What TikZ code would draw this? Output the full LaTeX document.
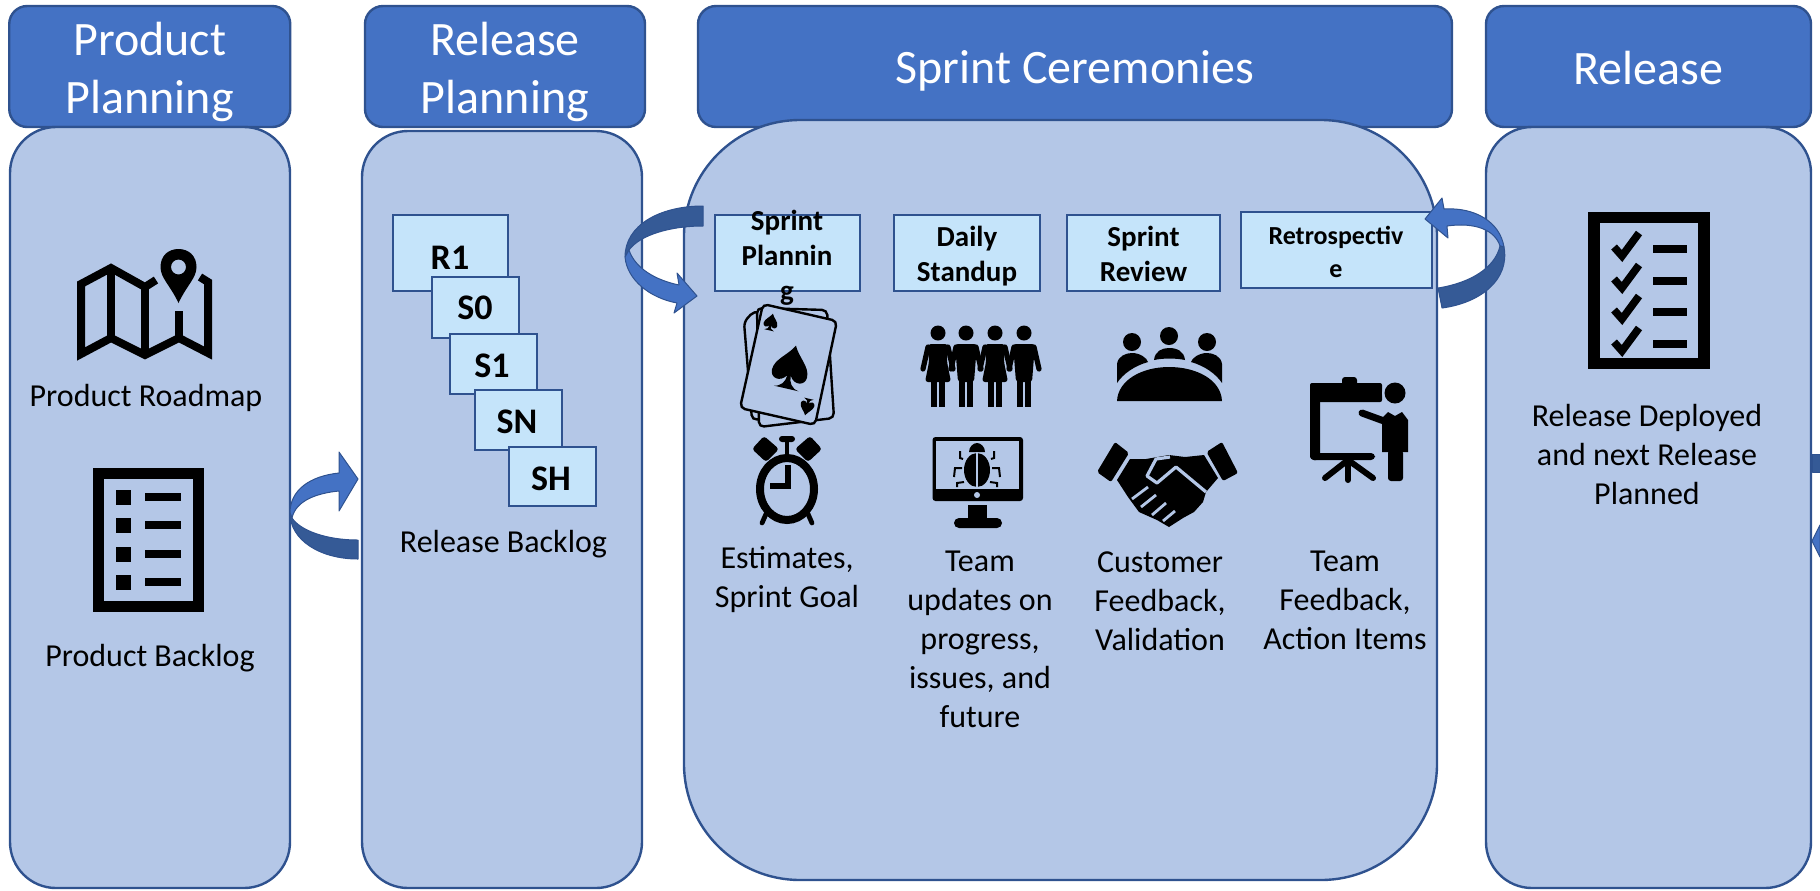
\documentclass[tikz,border=0pt]{standalone}
\usepackage{fontspec}
\setmainfont{Carlito}
\definecolor{hfill}{HTML}{4472C4}
\definecolor{pfill}{HTML}{B4C7E7}
\definecolor{bfill}{HTML}{C5E4FA}
\definecolor{edgec}{HTML}{2F528F}
\definecolor{darkarrow}{HTML}{355A96}
\tikzset{
  headbox/.style={draw=edgec,fill=hfill,line width=1.2pt,rounded corners=9pt,inner sep=0pt,align=center,text=white,font=\fontsize{24}{29}\selectfont},
  headtext/.style={inner sep=0pt,align=center,text=white,font=\fontsize{24}{29}\selectfont},
  bodybox/.style={draw=edgec,fill=pfill,line width=1.2pt,inner sep=0pt},
  itembox/.style={draw=edgec,fill=bfill,line width=1.2pt,inner sep=0pt},
  itemtext/.style={inner sep=0pt,align=center,font=\fontsize{14.5}{17.5}\selectfont\bfseries},
  stackbox/.style={draw=edgec,fill=bfill,line width=1.2pt,inner sep=0pt},
  stacktext/.style={inner sep=0pt,font=\fontsize{18}{20}\selectfont\bfseries},
  caption/.style={inner sep=0pt,align=center,font=\fontsize{16}{19.5}\selectfont},
  arrowlight/.style={fill=hfill,draw=edgec,line width=.5pt,line join=round},
  arrowdark/.style={fill=darkarrow,draw=edgec,line width=.5pt,line join=round},
  card/.style={draw=black,fill=pfill,line width=1.2pt,rounded corners=2.5pt},
}
\newcommand{\spadeshape}{(0,-1) .. controls (0.3,-0.5) and (1,-0.2) .. (1,0.3) .. controls (1,0.7) and (0.4,0.8) .. (0.1,0.4) .. controls (0.1,0.7) and (0.3,0.95) .. (0.7,1) -- (-0.7,1) .. controls (-0.3,0.95) and (-0.1,0.7) .. (-0.1,0.4) .. controls (-0.4,0.8) and (-1,0.7) .. (-1,0.3) .. controls (-1,-0.2) and (-0.3,-0.5) .. (0,-1) -- cycle}
\newcommand{\femfig}[1]{%
  \fill ({#1},333) circle (7.5);
  \fill[rounded corners=1.5pt] ({#1-10},344) -- ({#1+10},344) -- ({#1+9},362) -- ({#1+13},382) -- ({#1-13},382) -- ({#1-9},362) -- cycle;
  \fill ({#1-7},380) rectangle ({#1-1},407);
  \fill ({#1+1},380) rectangle ({#1+7},407);
  \draw[line width=2.6pt,line cap=round] ({#1-10},347) -- ({#1-15},369);
  \draw[line width=2.6pt,line cap=round] ({#1+10},347) -- ({#1+15},369);
}
\newcommand{\malefig}[1]{%
  \fill ({#1},333) circle (7.5);
  \fill[rounded corners=1.5pt] ({#1-11},344) -- ({#1+11},344) -- ({#1+8},382) -- ({#1-8},382) -- cycle;
  \fill ({#1-7},380) rectangle ({#1-1},407);
  \fill ({#1+1},380) rectangle ({#1+7},407);
  \draw[line width=2.6pt,line cap=round] ({#1-10},347) -- ({#1-15},369);
  \draw[line width=2.6pt,line cap=round] ({#1+10},347) -- ({#1+15},369);
}
\newcommand{\bullitem}[1]{%
  \fill (116,{#1-7.5}) rectangle (131,{#1+7.5});
  \fill (145,{#1-4}) rectangle (181,{#1+4});
}
\newcommand{\checkitem}[1]{%
  \draw[line width=3.8pt,miter limit=10] (1614,{#1}) -- (1622,{#1+9}) -- (1639,{#1-14});
  \fill (1653,{#1-2}) rectangle (1687,{#1+6});
}
\begin{document}
\begin{tikzpicture}[x=0.5pt,y=-0.5pt]
\useasboundingbox (0,0) rectangle (1820,890);
% headers
\node[headbox,minimum width=140.5pt,minimum height=60.5pt] (h1) at (149.75,66.5) {};
\node[headtext] (h1t) at (149.75,72) {Product\\Planning};
\node[headbox,minimum width=140pt,minimum height=60.5pt] (h2) at (505,66.5) {};
\node[headtext] (h2t) at (505,72) {Release\\Planning};
\node[headbox,minimum width=377pt,minimum height=60.5pt] (h3) at (1075,66.5) {};
\node[headtext] (h3t) at (1075,71) {Sprint Ceremonies};
\node[headbox,minimum width=162.5pt,minimum height=60.5pt] (h4) at (1648.5,66.5) {};
\node[headtext] (h4t) at (1648.5,68) {Release};
% panels
\node[bodybox,rounded corners=23pt,minimum width=140pt,minimum height=380.5pt] (p1) at (150,507.5) {};
\node[bodybox,rounded corners=23pt,minimum width=140pt,minimum height=378.5pt] (p2) at (502,509.5) {};
\node[bodybox,rounded corners=23pt,minimum width=162.5pt,minimum height=380.5pt] (p4) at (1648.5,507.5) {};
\node[bodybox,rounded corners=58pt,minimum width=376.5pt,minimum height=380pt] (p3) at (1060.5,500) {};
% map icon
\draw[line width=4pt,miter limit=10] (200,277) -- (208,282) -- (208,353) -- (179,338) -- (145,355) -- (111,338) -- (81,354) -- (81,284) -- (111,268) -- (145,287) -- (156,280);
\draw[line width=4pt] (111,268) -- (111,338);
\draw[line width=4pt] (145,287) -- (145,355);
\draw[line width=4pt] (179,311) -- (179,338);
\fill[even odd rule] (178.5,303) .. controls (170,285) and (160.5,278) .. (160.5,267) .. controls (160.5,256) and (168,249) .. (178.5,249) .. controls (189,249) and (196.5,256) .. (196.5,267) .. controls (196.5,278) and (187,285) .. (178.5,303) -- cycle (178.5,267) circle (7.5);
\node[caption] (t1) at (146,398) {Product Roadmap};
% backlog icon
\draw[line width=5.5pt] (98.5,473.5) rectangle (198.5,606.5);
\bullitem{497}\bullitem{525}\bullitem{554}\bullitem{582}
\node[caption] (t2) at (150,658) {Product Backlog};
% stack
\node[stackbox,minimum width=57.5pt,minimum height=38pt] (r1) at (450.5,253) {};
\node[stackbox,minimum width=43.5pt,minimum height=30.5pt] (s0) at (475.5,307.5) {};
\node[stackbox,minimum width=43.5pt,minimum height=30pt] (s1) at (493.5,364) {};
\node[stackbox,minimum width=43.5pt,minimum height=30pt] (sn) at (518.5,420) {};
\node[stackbox,minimum width=43.5pt,minimum height=29.5pt] (sh) at (552.5,476.5) {};
\node[stacktext] (r1t) at (450,258) {R1};
\node[stacktext] (s0t) at (475,308) {S0};
\node[stacktext] (s1t) at (492,366) {S1};
\node[stacktext] (snt) at (517,422) {SN};
\node[stacktext] (sht) at (551,479) {SH};
\node[caption] (t3) at (503.5,544) {Release Backlog};
% sprint boxes
\node[itembox,minimum width=72.5pt,minimum height=38pt] (b1) at (787.5,253) {};
\node[itembox,minimum width=73pt,minimum height=38pt] (b2) at (967,253) {};
\node[itembox,minimum width=76.5pt,minimum height=38pt] (b3) at (1143.5,253) {};
\node[itembox,minimum width=95.5pt,minimum height=38pt] (b4) at (1336.5,250) {};
\node[itemtext] (b1t) at (787,258) {Sprint\\Plannin\\g};
\node[itemtext] (b2t) at (967,256) {Daily\\Standup};
\node[itemtext] (b3t) at (1143.5,254) {Sprint\\Review};
\node[itemtext,font=\fontsize{13}{16.5}\selectfont\bfseries] (b4t) at (1336,252) {Retrospectiv\\e};
% cards
\draw[card] (744,322) -- (754,311) -- (830,330) -- (823,412) -- (752,420) -- cycle;
\draw[card] (757,308) -- (827,310) -- (834,418) -- (759,427) -- cycle;
\draw[card] (763,304) -- (837,321) -- (815,425) -- (740,408) -- cycle;
\begin{scope}[shift={(791,367)},rotate=-13,xscale=18,yscale=22]\fill \spadeshape;\end{scope}
\begin{scope}[shift={(771,322)},rotate=-13,xscale=7,yscale=8.5]\fill \spadeshape;\end{scope}
\begin{scope}[shift={(807,407)},rotate=167,xscale=7,yscale=8.5]\fill \spadeshape;\end{scope}
% clock
\draw[line width=4pt] (787,489) ellipse (27 and 31);
\draw[line width=2.8pt,miter limit=4] (788,465) -- (788,486) -- (770,486);
\fill[rounded corners=1.5pt] (779,436) rectangle (795,442);
\fill (785,440) rectangle (789,456);
\fill[rounded corners=1.5pt] (752,449) -- (764,436) -- (779,449) -- (766,462) -- cycle;
\fill[rounded corners=1.5pt] (822,449) -- (810,436) -- (795,449) -- (808,462) -- cycle;
\draw[line width=2.4pt,line cap=round] (766,514) -- (762,523);
\draw[line width=2.4pt,line cap=round] (808,514) -- (812,523);
\node[caption] (t4) at (787,580) {Estimates,\\Sprint Goal};
% people
\femfig{938}\malefig{966}\femfig{995}\malefig{1024}
% bug monitor
\fill[rounded corners=1.5pt] (932.5,437) rectangle (1023,501);
\fill[pfill] (936,441) rectangle (1019,489);
\fill[pfill] (977,495) circle (3);
\fill (968,505) rectangle (987,519);
\fill[rounded corners=2.5pt] (954,528) -- (954,518) -- (1002,518) -- (1002,528) -- cycle;
\fill (977,470) ellipse (13 and 17);
\fill (969,452) .. controls (969,447) and (973,443) .. (977,443) .. controls (981,443) and (985,447) .. (985,452) -- cycle;
\draw[pfill,line width=1.2pt] (977,452) -- (977,488);
\draw[line width=1pt] (963,459) -- (960,458) -- (960,451);
\draw[line width=1pt] (991,459) -- (994,458) -- (994,451);
\draw[line width=1pt] (962,468) -- (955,468) -- (954,477);
\draw[line width=1pt] (992,468) -- (999,468) -- (1000,477);
\draw[line width=1pt] (964,482) -- (957,483) -- (957,487);
\draw[line width=1pt] (990,482) -- (997,483) -- (997,487);
\node[caption] (t5) at (980,639) {Team\\updates on\\progress,\\issues, and\\future};
% meeting
\fill (1132,342) circle (9);
\fill (1169,336) circle (9);
\fill (1207,342) circle (9);
\fill (1117,383) -- (1117,364) .. controls (1118,356) and (1126,353) .. (1132,353) .. controls (1140,353) and (1147,358) .. (1148,362) .. controls (1134,366) and (1123,374) .. (1117,383) -- cycle;
\fill (1222,383) -- (1222,364) .. controls (1221,356) and (1213,353) .. (1207,353) .. controls (1199,353) and (1192,358) .. (1191,362) .. controls (1205,366) and (1216,374) .. (1222,383) -- cycle;
\fill (1154,360) .. controls (1155,351) and (1162,348) .. (1169,348) .. controls (1177,348) and (1184,351) .. (1185,360) .. controls (1175,358) and (1164,358) .. (1154,360) -- cycle;
\fill (1117,401) .. controls (1118,380) and (1142,367) .. (1169,367) .. controls (1197,367) and (1221,380) .. (1222,401) -- cycle;
% handshake
\fill[rounded corners=1pt] (1097,472) -- (1115,442) -- (1129,453) -- (1111,482) -- cycle;
\fill[rounded corners=1pt] (1206.5,452) -- (1222,442) -- (1238,473) -- (1223,481) -- cycle;
\fill (1130,459) -- (1146,459) -- (1169,455) -- (1185,457) -- (1204,455) -- (1218,478) -- (1206,492) -- (1203,502) -- (1194,512) -- (1183,518) -- (1169,527) -- (1157,520) -- (1139,512) -- (1128,497) -- (1117,480) -- cycle;
\draw[pfill,line width=1.6pt,line join=round] (1170,457) -- (1156,459) -- (1147,476) -- (1157,483) -- (1176,467) -- (1206,492);
\draw[pfill,line width=1.4pt] (1132,499) -- (1148,487);
\draw[pfill,line width=1.4pt] (1141,507) -- (1156,495);
\draw[pfill,line width=1.4pt] (1152,515) -- (1166,503);
\draw[pfill,line width=1.4pt] (1163,521) -- (1175,511);
\node[caption] (t6) at (1160,601) {Customer\\Feedback,\\Validation};
% presentation
\fill[rounded corners=1pt] (1310,383) rectangle (1382,402);
\fill[rounded corners=1.5pt] (1342,377) rectangle (1357,387);
\fill[rounded corners=2pt] (1310,383) rectangle (1320,460);
\fill[rounded corners=2pt] (1310,453) rectangle (1375,460);
\draw[line width=3pt,line cap=round] (1348,460) -- (1325,478);
\draw[line width=3pt,line cap=round] (1348,460) -- (1348,480);
\draw[line width=3pt,line cap=round] (1348,460) -- (1373,478);
\fill[pfill] (1395,393) circle (13);
\fill (1395,393) circle (10.5);
\draw[line width=3.5pt,line cap=round] (1362,413) -- (1384,421);
\fill (1382,418) -- (1388,412) -- (1395,416) -- (1402,412) -- (1408,420) -- (1408,452) -- (1382,452) -- cycle;
\fill[rounded corners=1.5pt] (1388,450) rectangle (1403,481);
\node[caption] (t7) at (1345,600) {Team\\Feedback,\\Action Items};
% checklist
\draw[line width=5.7pt] (1594,217.5) rectangle (1704,363.5);
\checkitem{247}\checkitem{279}\checkitem{310}\checkitem{342}
\node[caption] (t8) at (1647,454) {Release Deployed\\and next Release\\Planned};
% curved arrows
\path[arrowlight] (290,513) .. controls (290,490) and (310,476) .. (339,473) -- (339,452) -- (358,479) -- (339,511) -- (339,491) .. controls (318,493) and (296,500) .. (292,518) -- cycle;
\path[arrowdark] (290,513) .. controls (290,540) and (320,559) .. (358,559) -- (358,540) .. controls (325,540) and (300,530) .. (292,518) -- cycle;
\path[arrowdark] (703,206) .. controls (660,206) and (625,225) .. (625,257) -- (629,250) .. controls (640,235) and (670,226) .. (703,226) -- cycle;
\path[arrowlight] (625,257) .. controls (627,280) and (650,298) .. (677,303) -- (674,313) -- (697,296) -- (677,273) -- (679,285) .. controls (655,280) and (635,268) .. (629,250) -- cycle;
\path[arrowlight] (1425,219) -- (1442,198) -- (1444,209) .. controls (1475,207) and (1500,222) .. (1504,247) -- (1500,246) .. controls (1495,230) and (1475,222) .. (1447,226) -- (1448,238) -- cycle;
\path[arrowdark] (1504,247) .. controls (1510,280) and (1480,303) .. (1442,308) -- (1438,288) .. controls (1470,283) and (1495,268) .. (1500,246) -- cycle;
% right edge stubs
\path[arrowdark] (1812,454) rectangle (1820,472);
\path[arrowlight] (1812,541) -- (1820,525) -- (1820,557) -- cycle;
\end{tikzpicture}
\end{document}
